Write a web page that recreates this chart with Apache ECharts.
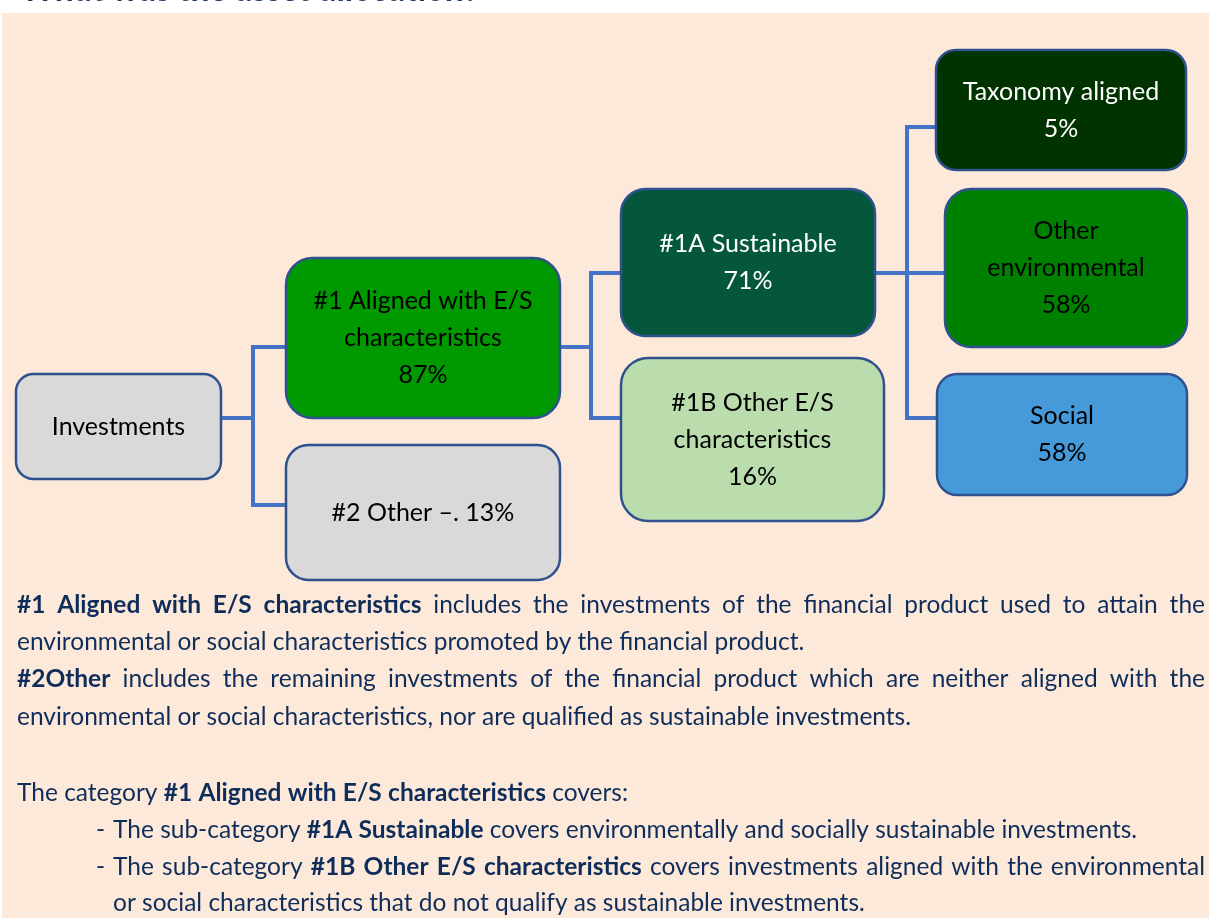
<!DOCTYPE html>
<html>
<head>
<meta charset="utf-8">
<script src="https://cdn.jsdelivr.net/npm/echarts@6/dist/echarts.min.js"></script>
<style>
html,body{margin:0;padding:0;background:#fff;}
#main{width:1209px;height:918px;}
</style>
</head>
<body>
<div id="main"></div>
<script>
// tree content
var nodeLabels = ['Investments', '#1 Aligned with E/S\ncharacteristics', '#2 Other –.', '#1A Sustainable',
    '#1B Other E/S\ncharacteristics', 'Taxonomy aligned', 'Other\nenvironmental', 'Social'];
var nodeShares = [null, 87, 13, 71, 16, 5, 58, 58];
var nodeParents = [-1, 0, 0, 1, 1, 3, 3, 3];

// notes under the diagram, one entry per printed line
var noteLines = [
    [['b', '#1 Aligned with E/S characteristics'], ['n', ' includes the investments of the financial product used to attain the']],
    [['n', 'environmental or social characteristics promoted by the financial product.']],
    [['b', '#2Other'], ['n', ' includes the remaining investments of the financial product which are neither aligned with the']],
    [['n', 'environmental or social characteristics, nor are qualified as sustainable investments.']],
    [['n', 'The category '], ['b', '#1 Aligned with E/S characteristics'], ['n', ' covers:']],
    [['n', 'The sub-category '], ['b', '#1A Sustainable'], ['n', ' covers environmentally and socially sustainable investments.']],
    [['n', 'The sub-category '], ['b', '#1B Other E/S characteristics'], ['n', ' covers investments aligned with the environmental']],
    [['n', 'or social characteristics that do not qualify as sustainable investments.']]
];

// layout: box [left, top, right, bottom], connector y, colours
var boxes = [
    [16, 374, 221, 479], [286, 258, 560, 418], [286, 445, 560, 580], [621, 189, 875, 336],
    [621, 358, 884, 521], [936, 50, 1186, 170], [945, 189, 1187, 347], [937, 374, 1187, 495]
];
var ports = [418, 347, 505, 273, 418, 127, 273, 418];
var busX = {0: 253, 1: 591, 3: 907};
var shareSep = ['', '\n', ' ', '\n', '\n', '\n', '\n', '\n'];
var fills = ['#d9d9d9', '#009900', '#d9d9d9', '#04573a', '#bbdcac', '#003300', '#008000', '#469ada'];
var inks = ['#000', '#000', '#000', '#fff', '#000', '#fff', '#000', '#000'];
var noteY = [605, 642, 679, 717, 793, 830, 867, 903];
var noteLeft = [17, 17, 17, 17, 17, 113, 113, 113];
var noteJustify = [true, false, true, false, false, false, true, false];
var noteBullet = [false, false, false, false, false, true, true, false];

var FONT = 'Lato';
var BOX_FS = 25;
var NOTE_FS = 24.5;
var NAVY = '#0f2d5a';

var myChart = echarts.init(document.getElementById('main'));

var ctx = document.createElement('canvas').getContext('2d');
function textW(t, bold) {
    ctx.font = (bold ? 'bold ' : '') + NOTE_FS + 'px ' + FONT;
    return ctx.measureText(t).width;
}

var graphics = [
    {type: 'rect', z: -10, shape: {x: 2, y: 13, width: 1207, height: 905}, style: {fill: '#fde9d9'}},
    {type: 'text', x: 22, y: -10, style: {text: 'What was the asset allocation?', fontSize: 35, fontWeight: 'bold',
        fontStyle: 'italic', fontFamily: FONT, fill: '#1f3864', verticalAlign: 'middle'}}
];

noteLines.forEach(function (segs, li) {
    var words = [];
    segs.forEach(function (s) {
        s[1].split(' ').forEach(function (w) {
            if (w) words.push({t: w, b: s[0] === 'b'});
        });
    });
    var sum = 0;
    words.forEach(function (w) { w.w = textW(w.t, w.b); sum += w.w; });
    var gap = textW(' ', false);
    if (noteJustify[li]) gap = (1205 - noteLeft[li] - sum) / (words.length - 1);
    var x = noteLeft[li];
    words.forEach(function (w) {
        graphics.push({type: 'text', z: 10, x: x, y: noteY[li], style: {text: w.t, fontSize: NOTE_FS,
            fontWeight: w.b ? 'bold' : 'normal', fontFamily: FONT, fill: NAVY, verticalAlign: 'middle'}});
        x += w.w + gap;
    });
    if (noteBullet[li]) {
        graphics.push({type: 'text', z: 10, x: 96, y: noteY[li], style: {text: '-', fontSize: NOTE_FS,
            fontFamily: FONT, fill: NAVY, verticalAlign: 'middle'}});
    }
});

var option = {
    animation: false,
    grid: {left: 0, right: 0, top: 0, bottom: 0},
    xAxis: {type: 'value', min: 0, max: 1209, show: false},
    yAxis: {type: 'value', min: 0, max: 918, inverse: true, show: false},
    graphic: graphics,
    series: [
        {
            type: 'custom',
            z: 1,
            data: nodeParents.map(function (p, i) { return [0, 0, i]; }).slice(1),
            renderItem: function (params, api) {
                var c = api.value(2), p = nodeParents[c];
                var pb = boxes[p], cb = boxes[c];
                var pts = [[pb[2], ports[p]], [busX[p], ports[p]], [busX[p], ports[c]], [cb[0], ports[c]]].map(function (v) {
                    return api.coord(v);
                });
                return {type: 'polyline', shape: {points: pts}, style: {stroke: '#4472c4', lineWidth: 4, fill: null}};
            }
        },
        {
            type: 'custom',
            z: 2,
            data: nodeLabels.map(function (n, i) { return [0, 0, i]; }),
            renderItem: function (params, api) {
                var i = api.value(2);
                var b = boxes[i];
                var p0 = api.coord([b[0], b[1]]), p1 = api.coord([b[2], b[3]]);
                var w = p1[0] - p0[0], h = p1[1] - p0[1];
                var txt = nodeLabels[i] + (nodeShares[i] == null ? '' : shareSep[i] + nodeShares[i] + '%');
                return {
                    type: 'group',
                    children: [
                        {type: 'rect', shape: {x: p0[0], y: p0[1], width: w, height: h, r: Math.min(w, h) * 0.1667},
                            style: {fill: fills[i], stroke: '#2f528f', lineWidth: 2.5}},
                        {type: 'text', style: {text: txt, x: p0[0] + w / 2, y: p0[1] + h / 2, align: 'center',
                            verticalAlign: 'middle', fontSize: BOX_FS, lineHeight: 37, fontFamily: FONT, fill: inks[i]}}
                    ]
                };
            }
        }
    ]
};
myChart.setOption(option);
</script>
</body>
</html>
